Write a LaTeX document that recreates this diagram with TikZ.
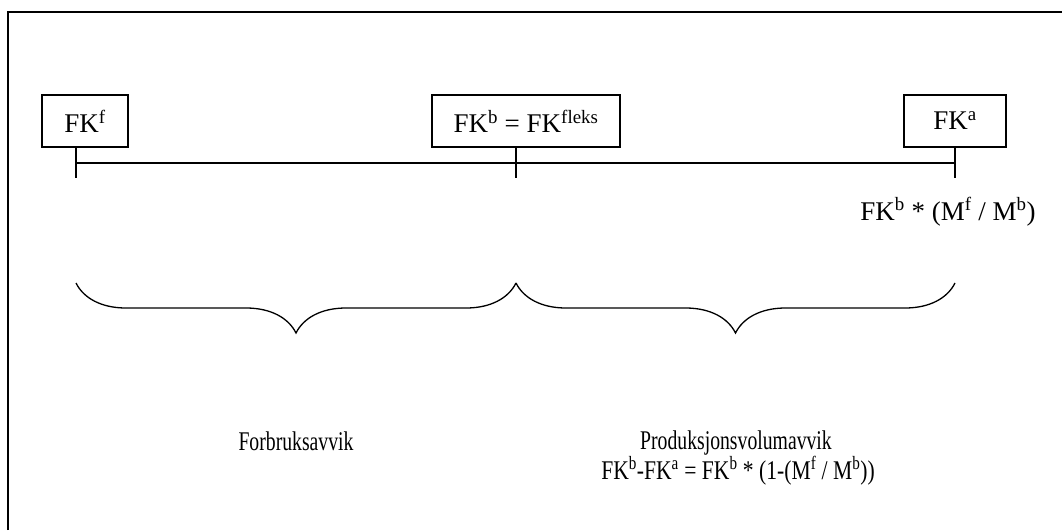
\documentclass[tikz,border=0pt]{standalone}
\usepackage{fontspec}
\setmainfont{Liberation Serif}
\newfontfamily\narrowA[FakeStretch=0.73]{Liberation Serif}
\newfontfamily\narrowB[FakeStretch=0.8]{Liberation Serif}
\usetikzlibrary{decorations.pathreplacing}
\begin{document}
\begin{tikzpicture}[x=1pt,y=-1pt,line width=1.3pt,every node/.style={font=\fontsize{27}{30}\selectfont,inner sep=0pt},
  fkbox/.style={draw,minimum height=52pt,inner sep=0pt},
  avvikbrace/.style={decorate,decoration={brace,mirror,amplitude=50pt}}]
  \useasboundingbox (0,0) rectangle (1062,530);
  \draw[line width=1.8pt] (8,530)--(8,12)--(1062,12);
  \coordinate (T1) at (76,163);
  \coordinate (T2) at (516,163);
  \coordinate (T3) at (955,163);
  \node[fkbox,minimum width=86pt] (fkf) at (85,121) {FK\textsuperscript{f}};
  \node[fkbox,minimum width=188pt] (fkb) at (526,121) {FK\textsuperscript{b} = FK\textsuperscript{fleks}};
  \node[fkbox,minimum width=102pt] (fka) at (955,121) {FK\textsuperscript{a}};
  \draw (T1)--(T3);
  \draw (fkf.south -| T1)--([yshift=-15pt]T1);
  \draw (fkb.south -| T2)--([yshift=-15pt]T2);
  \draw (fka.south -| T3)--([yshift=-15pt]T3);
  \node[anchor=base] (fkm) at (948,220) {FK\textsuperscript{b} * (M\textsuperscript{f} / M\textsuperscript{b})};
  \draw[avvikbrace] (76,283)--(516,283);
  \draw[avvikbrace] (516,283)--(955,283);
  \node[anchor=base,font=\fontsize{27}{30}\narrowA] (forb) at (296,450) {Forbruksavvik};
  \node[anchor=base,font=\fontsize{27}{30}\narrowA] (prod) at (736,449) {Produksjonsvolumavvik};
  \node[anchor=base,font=\fontsize{27}{30}\narrowB] (prodf) at (738,479) {FK\textsuperscript{b}-FK\textsuperscript{a} = FK\textsuperscript{b} * (1-(M\textsuperscript{f} / M\textsuperscript{b}))};
\end{tikzpicture}
\end{document}
